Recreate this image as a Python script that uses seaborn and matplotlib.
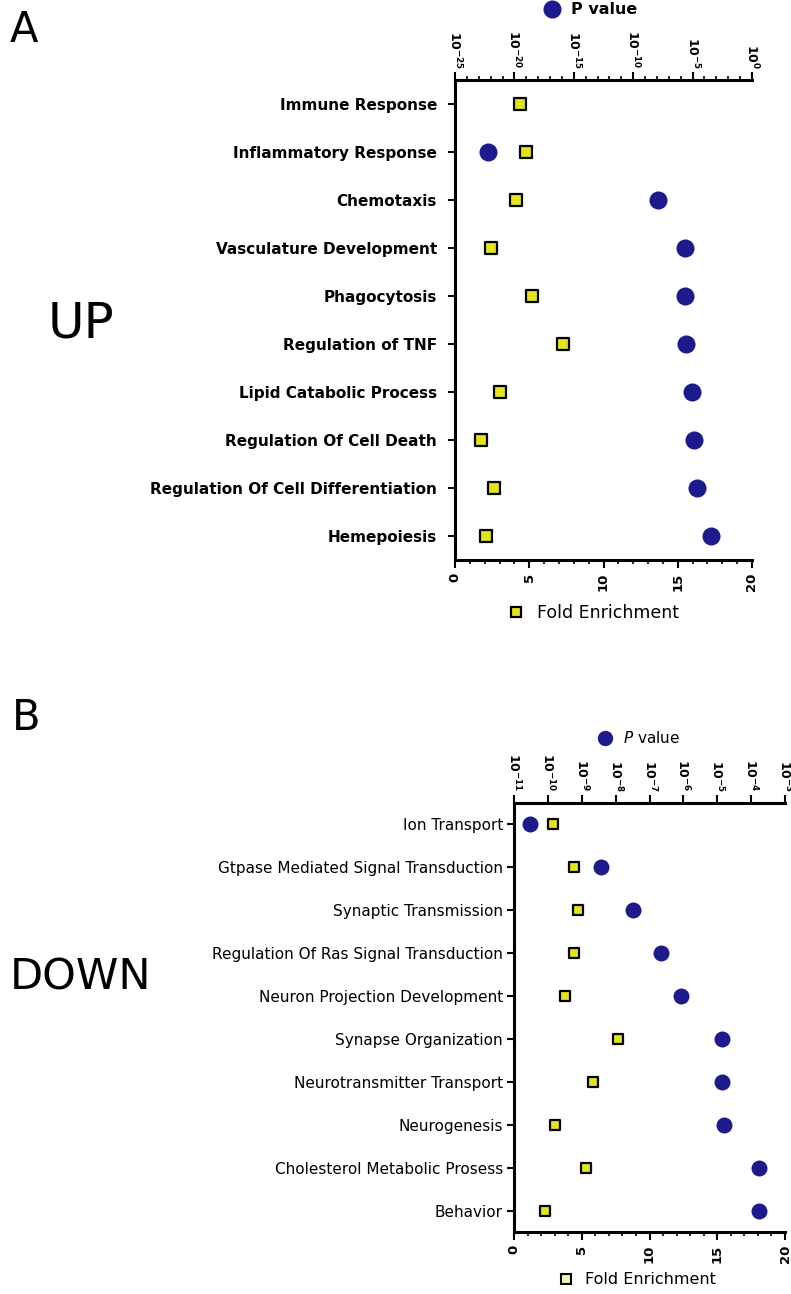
import numpy as np
import pandas as pd
import matplotlib
matplotlib.use("Agg")
import matplotlib.pyplot as plt
from matplotlib.lines import Line2D
from matplotlib.ticker import FixedLocator, MultipleLocator, NullFormatter
import seaborn as sns

# ---- GO terms enriched among up-regulated genes ----
up_terms = [
    "Immune Response", "Inflammatory Response", "Chemotaxis",
    "Vasculature Development", "Phagocytosis", "Regulation of TNF",
    "Lipid Catabolic Process", "Regulation Of Cell Death",
    "Regulation Of Cell Differentiation", "Hemepoiesis",
]
up_fold = [4.4, 4.8, 4.1, 2.4, 5.2, 7.3, 3.0, 1.75, 2.6, 2.1]
up_pval = [np.nan, 6e-23, 1.3e-8, 2.3e-6, 2.3e-6, 2.7e-6, 9e-6, 1.3e-5, 2.3e-5, 3.5e-4]
up_ptick_exp = [-25, -20, -15, -10, -5, 0]

# ---- GO terms enriched among down-regulated genes ----
down_terms = [
    "Ion Transport", "Gtpase Mediated Signal Transduction", "Synaptic Transmission",
    "Regulation Of Ras Signal Transduction", "Neuron Projection Development",
    "Synapse Organization", "Neurotransmitter Transport", "Neurogenesis",
    "Cholesterol Metabolic Prosess", "Behavior",
]
down_fold = [2.9, 4.4, 4.7, 4.4, 3.8, 7.7, 5.8, 3.0, 5.3, 2.3]
down_pval = [3e-11, 3.7e-9, 3.2e-8, 2.2e-7, 8.5e-7, 1.4e-5, 1.4e-5, 1.6e-5, 1.7e-4, 1.7e-4]
down_ptick_exp = [-11, -10, -9, -8, -7, -6, -5, -4, -3]

fold_ticks = [0, 5, 10, 15, 20]

DOT = "#1c1a8c"
SQ = "#e4e41c"

sns.set_theme(style="white")
plt.rcParams["font.family"] = ["DejaVu Sans"]
plt.rcParams.update({"text.color": "black", "axes.labelcolor": "black",
                     "xtick.color": "black", "ytick.color": "black"})

W, H = 791, 1294
fig = plt.figure(figsize=(W / 100, H / 100), dpi=100)


def px_axes(x0, y0, x1, y1):
    return fig.add_axes([x0 / W, 1 - y1 / H, (x1 - x0) / W, (y1 - y0) / H])


def panel(ax, terms, fold, pval, pexp, dot_size, sq_size, lab_fs, lab_weight,
          lab_pad, top_minor):
    df = pd.DataFrame({"term": terms, "fold": fold, "pval": pval})

    ax2 = ax.twiny()
    sns.stripplot(data=df, x="pval", y="term", order=terms, jitter=False,
                  marker="o", size=dot_size, color=DOT, linewidth=0,
                  log_scale=True, ax=ax2, zorder=3)
    sns.stripplot(data=df, x="fold", y="term", order=terms, jitter=False,
                  marker="s", size=sq_size, color=SQ, edgecolor="black",
                  linewidth=1.6, ax=ax, zorder=4)
    ax.set_zorder(ax2.get_zorder() + 1)
    ax.patch.set_visible(False)

    ax.set_xlim(0, 20)
    ax.set_ylim(len(terms) - 0.5, -0.5)
    ax.set_xticks(fold_ticks)
    ax.xaxis.set_minor_locator(MultipleLocator(1))
    ax.set_xticklabels([str(t) for t in fold_ticks], rotation=90,
                       fontsize=9.5, fontweight="bold")
    ax.set_xlabel("")
    ax.set_ylabel("")
    ax.tick_params(axis="y", labelsize=lab_fs, length=5, width=1.5, left=True,
                   pad=lab_pad, labelcolor="black")
    plt.setp(ax.get_yticklabels(), fontweight=lab_weight)
    ax.tick_params(axis="x", which="major", length=6, width=1.5, bottom=True, pad=3)
    ax.tick_params(axis="x", which="minor", length=3, width=1.2, bottom=True)

    ax2.set_xlim(10.0 ** pexp[0], 10.0 ** pexp[-1])
    ax2.set_xticks([10.0 ** e for e in pexp])
    ax2.set_xticklabels([f"$\\mathbf{{10^{{{e}}}}}$" for e in pexp], rotation=-90,
                        fontsize=9)
    if top_minor == "decade":
        ax2.xaxis.set_minor_locator(
            FixedLocator([10.0 ** e for e in range(pexp[0], pexp[-1] + 1)]))
    ax2.xaxis.set_minor_formatter(NullFormatter())
    ax2.tick_params(axis="x", which="major", length=6, width=1.5, top=True, pad=2)
    ax2.tick_params(axis="x", which="minor", length=3, width=1.2, top=True)
    ax2.set_xlabel("")
    ax2.set_ylabel("")
    ax2.tick_params(axis="y", left=False, right=False, labelleft=False, labelright=False)

    for a in (ax, ax2):
        a.spines["right"].set_visible(False)
        for s in ("left", "bottom", "top"):
            a.spines[s].set_linewidth(2.2)
            a.spines[s].set_color("black")
    ax.spines["top"].set_visible(False)
    ax2.spines["left"].set_visible(False)
    ax2.spines["bottom"].set_visible(False)
    return ax2


# Panel A
axA = px_axes(455, 80, 752, 560)
panel(axA, up_terms, up_fold, up_pval, up_ptick_exp, 13, 8, 11, "bold", 8, "decade")

# Panel B
axB = px_axes(514, 803, 785, 1232)
panel(axB, down_terms, down_fold, down_pval, down_ptick_exp, 11.5, 7.5, 11, "normal", 3, "log")

dot_h = Line2D([], [], marker="o", linestyle="none", markersize=12,
               markerfacecolor=DOT, markeredgecolor=DOT)
sq_h = Line2D([], [], marker="s", linestyle="none", markersize=7,
              markerfacecolor=SQ, markeredgecolor="black", markeredgewidth=1.6)

leg_kw = dict(loc="center", frameon=False, handletextpad=0.6, borderpad=0,
              handlelength=1.2)
fig.legend([dot_h], ["P value"], bbox_to_anchor=(590 / W, 1 - 10 / H),
           prop={"size": 11.5, "weight": "bold"}, **leg_kw)
fig.legend([sq_h], ["Fold Enrichment"], bbox_to_anchor=(592 / W, 1 - 613 / H),
           prop={"size": 12.5}, **leg_kw)
fig.legend([Line2D([], [], marker="o", linestyle="none", markersize=10,
                   markerfacecolor=DOT, markeredgecolor=DOT)],
           ["$\\mathit{P}$ value"], bbox_to_anchor=(638 / W, 1 - 738 / H),
           prop={"size": 11}, **leg_kw)
fig.legend([Line2D([], [], marker="s", linestyle="none", markersize=7,
                   markerfacecolor="#f4f4b0", markeredgecolor="black",
                   markeredgewidth=1.5)],
           ["Fold Enrichment"], bbox_to_anchor=(636 / W, 1 - 1280 / H),
           prop={"size": 11.5}, **leg_kw)

fig.text(10 / W, 1 - 30 / H, "A", fontsize=30, va="center", ha="left")
fig.text(12 / W, 1 - 718 / H, "B", fontsize=30, va="center", ha="left")
fig.text(48 / W, 1 - 324 / H, "UP", fontsize=36, va="center", ha="left")
fig.text(10 / W, 1 - 977 / H, "DOWN", fontsize=31, va="center", ha="left")

fig.savefig("out.png", dpi=100, facecolor="white")
